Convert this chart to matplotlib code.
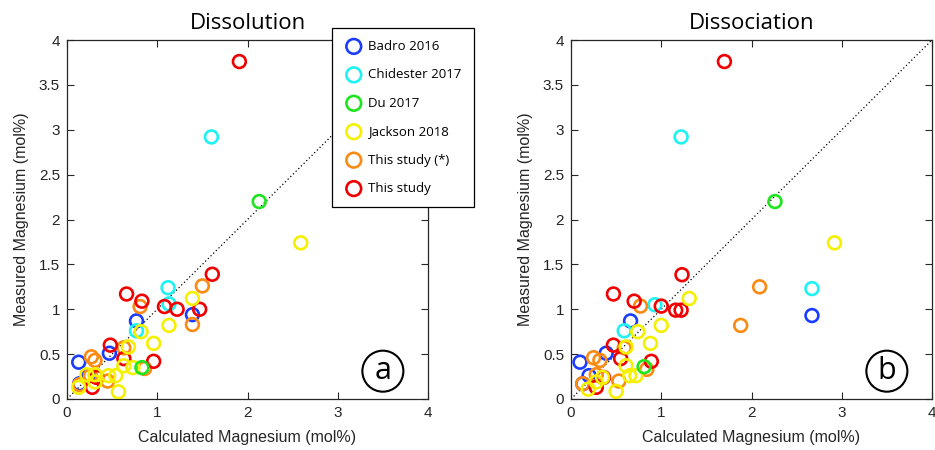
import matplotlib
matplotlib.use("Agg")
import matplotlib.pyplot as plt
from matplotlib import font_manager as fm

# ---------------- data ----------------
labels = ["Badro 2016", "Chidester 2017", "Du 2017", "Jackson 2018", "This study (*)", "This study"]
colors = ["#1a3cff", "#1ef2f2", "#1ee61e", "#f5f000", "#fb8a12", "#f00000"]

# Dissolution panel (a)
badro_a_x = [1.39, 0.77, 0.47, 0.13, 0.24, 0.14]
badro_a_y = [0.94, 0.87, 0.51, 0.41, 0.26, 0.17]
chid_a_x = [1.60, 1.12, 1.13, 0.77]
chid_a_y = [2.92, 1.24, 1.06, 0.76]
du_a_x = [2.13, 0.83]
du_a_y = [2.20, 0.35]
jack_a_x = [2.59, 1.39, 1.13, 0.82, 0.96, 0.68, 0.63, 0.73, 0.54, 0.46, 0.22, 0.31, 0.31, 0.13, 0.57]
jack_a_y = [1.74, 1.12, 0.82, 0.75, 0.62, 0.58, 0.37, 0.35, 0.26, 0.26, 0.27, 0.27, 0.19, 0.13, 0.08]
star_a_x = [1.50, 0.81, 1.39, 0.63, 0.27, 0.31, 0.86, 0.45, 0.26, 0.14]
star_a_y = [1.26, 1.03, 0.83, 0.57, 0.47, 0.43, 0.34, 0.20, 0.26, 0.16]
this_a_x = [1.91, 1.61, 0.66, 0.83, 1.08, 1.22, 1.47, 0.48, 0.63, 0.96, 0.28, 0.33]
this_a_y = [3.76, 1.39, 1.17, 1.09, 1.03, 1.00, 1.00, 0.60, 0.45, 0.42, 0.13, 0.24]

# Dissociation panel (b)
badro_b_x = [2.67, 0.66, 0.39, 0.10, 0.20, 0.13]
badro_b_y = [0.93, 0.87, 0.51, 0.41, 0.26, 0.17]
chid_b_x = [1.22, 2.67, 0.93, 0.59]
chid_b_y = [2.92, 1.23, 1.05, 0.76]
du_b_x = [2.26, 0.81]
du_b_y = [2.20, 0.36]
jack_b_x = [2.92, 1.31, 1.00, 0.74, 0.88, 0.61, 0.61, 0.65, 0.72, 0.35, 0.28, 0.19, 0.50]
jack_b_y = [1.74, 1.12, 0.82, 0.75, 0.62, 0.58, 0.37, 0.26, 0.26, 0.24, 0.19, 0.11, 0.085]
star_b_x = [2.09, 0.77, 1.88, 0.59, 0.25, 0.32, 0.84, 0.53, 0.28, 0.13]
star_b_y = [1.25, 1.035, 0.82, 0.57, 0.46, 0.43, 0.33, 0.20, 0.27, 0.17]
this_b_x = [1.70, 1.23, 0.47, 0.70, 1.00, 1.16, 1.22, 0.47, 0.55, 0.89, 0.28, 0.36]
this_b_y = [3.76, 1.385, 1.17, 1.09, 1.035, 0.99, 0.99, 0.60, 0.45, 0.42, 0.13, 0.24]

xticks = [0, 1, 2, 3, 4]
yticks = [0, 0.5, 1, 1.5, 2, 2.5, 3, 3.5, 4]
ytick_labels = ["0", "0.5", "1", "1.5", "2", "2.5", "3", "3.5", "4"]

panels = [
    dict(title="Dissolution", tag="a",
         series=[(badro_a_x, badro_a_y), (chid_a_x, chid_a_y), (du_a_x, du_a_y),
                 (jack_a_x, jack_a_y), (star_a_x, star_a_y), (this_a_x, this_a_y)]),
    dict(title="Dissociation", tag="b",
         series=[(badro_b_x, badro_b_y), (chid_b_x, chid_b_y), (du_b_x, du_b_y),
                 (jack_b_x, jack_b_y), (star_b_x, star_b_y), (this_b_x, this_b_y)]),
]

# ---------------- fonts ----------------
avail = {f.name for f in fm.fontManager.ttflist}
tick_font = "Liberation Sans Narrow" if "Liberation Sans Narrow" in avail else "Liberation Sans"
title_font = "Open Sans"

zorders = [3, 3, 5, 4, 3.5, 3.6]

fig = plt.figure(figsize=(9.35, 4.5), dpi=100)
axes_pos = [[67 / 935, 51 / 450, 361 / 935, 359 / 450],
            [571 / 935, 51 / 450, 361 / 935, 359 / 450]]

handles = []
for i, p in enumerate(panels):
    ax = fig.add_axes(axes_pos[i])
    ax.plot([0, 4], [0, 4], linestyle=(0, (1, 2)), color="black", lw=0.9, zorder=2)
    for k, (xs, ys) in enumerate(p["series"]):
        h = ax.scatter(xs, ys, s=85, facecolors="none", edgecolors=colors[k],
                       linewidths=1.9, zorder=zorders[k], label=labels[k])
        if i == 0:
            handles.append(h)
    ax.set_xlim(0, 4)
    ax.set_ylim(0, 4)
    ax.set_xticks(xticks)
    ax.set_yticks(yticks)
    ax.set_yticklabels(ytick_labels)
    ax.tick_params(direction="in", top=True, right=True, length=5, width=0.8,
                   colors="#262626", labelsize=11, pad=5)
    for lab in ax.get_xticklabels() + ax.get_yticklabels():
        lab.set_fontfamily(tick_font)
        lab.set_color("#262626")
    for sp in ax.spines.values():
        sp.set_color("#262626")
        sp.set_linewidth(0.9)
    ax.set_xlabel("Calculated Magnesium (mol%)", fontsize=11.5, family="Liberation Sans",
                  color="#262626", labelpad=7)
    ax.set_ylabel("Measured Magnesium (mol%)", fontsize=11.5, family="Liberation Sans",
                  color="#262626", labelpad=7)
    ax.set_title(p["title"], fontsize=16, family=title_font, pad=8)
    ax.text(3.5, 0.31, p["tag"], fontsize=22, family=title_font, ha="center", va="center",
            zorder=6,
            bbox=dict(boxstyle="circle,pad=0.18", facecolor="white", edgecolor="black", lw=1.5))

leg = fig.legend(handles=handles, loc="upper left", bbox_to_anchor=(332 / 935, 1 - 28 / 450),
                 borderaxespad=0, frameon=True, fancybox=False, framealpha=1, edgecolor="black",
                 prop={"family": title_font, "size": 9.5}, labelspacing=1.17,
                 borderpad=0.9, handletextpad=0.35, handlelength=1.5, markerscale=1.15)
leg.get_frame().set_linewidth(0.9)

fig.savefig("out.png", dpi=100)
